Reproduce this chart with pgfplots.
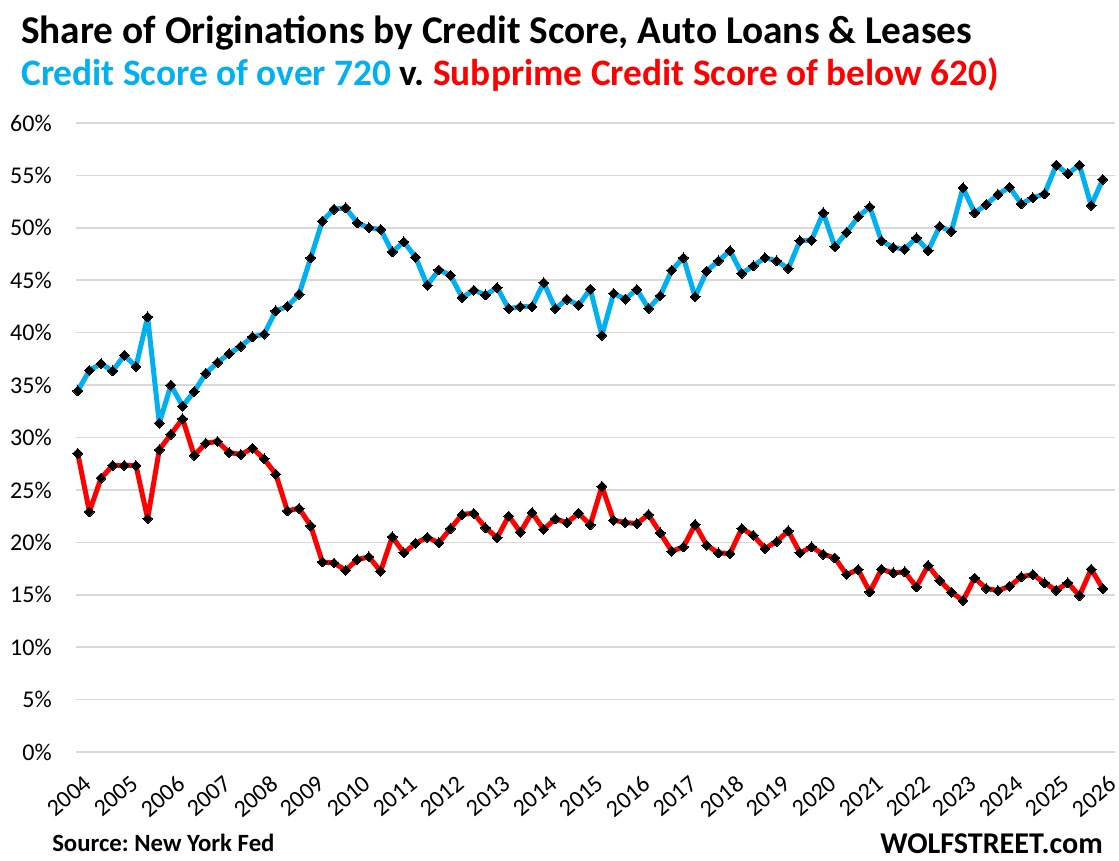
\documentclass[border=0pt]{standalone}
\usepackage{fontspec}
\setmainfont{Carlito}
\usepackage{pgfplots}
\pgfplotsset{compat=1.18}
\usepackage{pgfplotstable}
\definecolor{cblue}{HTML}{00B0F0}
\definecolor{cred}{HTML}{FF0000}
\definecolor{cgrid}{HTML}{D9D9D9}
\newlength\px
\setlength\px{0.75pt}
\frenchspacing

\pgfplotstableread{
i hi lo
0 34.45 28.48
1 36.40 22.92
2 37.05 26.13
3 36.35 27.33
4 37.85 27.33
5 36.77 27.33
6 41.50 22.26
7 31.37 28.83
8 35.00 30.32
9 33.00 31.78
10 34.38 28.29
11 36.13 29.46
12 37.15 29.62
13 38.00 28.57
14 38.70 28.38
15 39.60 28.98
16 39.86 27.96
17 42.08 26.50
18 42.50 23.00
19 43.67 23.25
20 47.14 21.57
21 50.64 18.13
22 51.78 18.03
23 51.91 17.33
24 50.48 18.36
25 50.00 18.61
26 49.84 17.24
27 47.71 20.52
28 48.66 18.99
29 47.20 19.90
30 44.53 20.48
31 45.98 19.96
32 45.48 21.30
33 43.34 22.67
34 44.05 22.77
35 43.60 21.40
36 44.30 20.44
37 42.29 22.51
38 42.48 20.98
39 42.48 22.83
40 44.77 21.24
41 42.29 22.25
42 43.19 21.87
43 42.61 22.77
44 44.15 21.66
45 39.75 25.34
46 43.74 22.11
47 43.20 21.89
48 44.12 21.79
49 42.30 22.65
50 43.51 20.90
51 45.96 19.15
52 47.14 19.56
53 43.42 21.70
54 45.87 19.72
55 46.85 18.99
56 47.81 18.93
57 45.65 21.31
58 46.37 20.67
59 47.15 19.41
60 46.85 20.07
61 46.12 21.09
62 48.76 18.99
63 48.83 19.56
64 51.43 18.86
65 48.19 18.51
66 49.56 16.93
67 51.05 17.40
68 52.00 15.27
69 48.76 17.43
70 48.13 17.08
71 47.97 17.18
72 49.05 15.74
73 47.81 17.81
74 50.15 16.36
75 49.65 15.25
76 53.82 14.45
77 51.43 16.60
78 52.23 15.59
79 53.19 15.40
80 53.88 15.81
81 52.29 16.70
82 52.86 16.93
83 53.24 16.13
84 55.98 15.43
85 55.16 16.13
86 55.98 14.92
87 52.14 17.44
88 54.62 15.59
}\datatable

\begin{document}
\begin{tikzpicture}
\useasboundingbox (0,0) rectangle (1119\px,860\px);
\begin{axis}[
  at={(76\px,108\px)}, anchor=south west,
  scale only axis, width=1039\px, height=629\px,
  xmin=-0.15, xmax=89.05, ymin=0, ymax=60,
  axis line style={draw=none},
  ytick={0,5,...,60},
  xtick={0,4,...,88},
  xticklabels={2004,2005,2006,2007,2008,2009,2010,2011,2012,2013,2014,2015,2016,2017,2018,2019,2020,2021,2022,2023,2024,2025,2026},
  yticklabel={\pgfmathprintnumber{\tick}\%},
  /pgf/number format/assume math mode=true,
  ymajorgrids, grid style={cgrid, line width=1.6\px},
  major tick length=0pt,
  tick style={draw=none},
  tick label style={font=\fontsize{18}{22}\selectfont, text=black},
  yticklabel style={anchor=east, inner sep=0pt, xshift=-24\px},
  xticklabel style={inner sep=0pt, xshift=5\px, yshift=-22\px, rotate=40, anchor=north east},
  clip=false,
]
\addplot[cblue, line width=5\px, line join=round, mark=square*, mark size=3.5\px,
  mark options={black, fill=black, rotate=45, line width=0pt}] table[x=i, y=hi] {\datatable};
\addplot[cred, line width=5\px, line join=round, mark=square*, mark size=3.5\px,
  mark options={black, fill=black, rotate=45, line width=0pt}] table[x=i, y=lo] {\datatable};
\end{axis}
\node[anchor=base west, inner sep=0pt, font=\bfseries\fontsize{29.5}{34}\selectfont] at (21\px,816.4\px)
  {Share of Originations by Credit Score, Auto Loans \& Leases};
\node[anchor=base west, inner sep=0pt, font=\bfseries\fontsize{28}{34}\selectfont] at (21\px,774\px)
  {\textcolor{cblue}{Credit Score of over 720} v. \textcolor{cred}{Subprime Credit Score of below 620)}};
\node[anchor=base west, inner sep=0pt, font=\bfseries\fontsize{18.6}{22}\selectfont] at (52\px,8.5\px)
  {Source: New York Fed};
\node[anchor=base east, inner sep=0pt, font=\bfseries\fontsize{22.6}{26}\selectfont] at (1103\px,7\px)
  {WOLFSTREET.com};
\end{tikzpicture}
\end{document}
